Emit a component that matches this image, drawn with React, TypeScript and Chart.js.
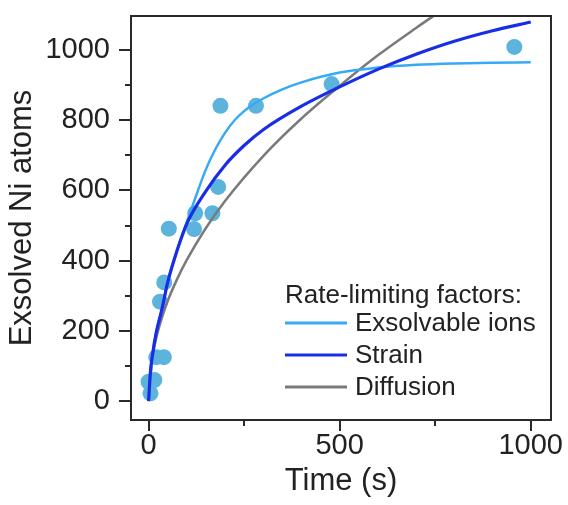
import React, { useEffect, useRef } from 'react';
import { Chart, registerables } from 'chart.js';

Chart.register(...registerables);

// ---------- data ----------
const timeTicks = [0, 500, 1000];
const timeMinorTicks = [250, 750];
const atomTicks = [0, 200, 400, 600, 800, 1000];
const atomMinorTicks = [100, 300, 500, 700, 900];

const obsTime = [5, 0, 15, 20, 40, 30, 41, 53, 119, 122, 167, 182, 188, 281, 479, 957];
const obsAtoms = [22, 55, 60, 125, 125, 283, 338, 491, 490, 535, 535, 610, 841, 841, 903, 1009];

const ionsTime = [0, 10, 20, 35, 50, 75, 100, 125, 150, 175, 200, 225, 250, 275, 300, 350, 400, 500, 600, 700, 800, 900, 1000];
const ionsAtoms = [0, 125, 195, 262, 340, 432, 510, 587, 660, 718, 764, 800, 826, 846, 862, 888, 908, 936, 950, 958, 962, 964, 965];

const strainTime = [0, 5, 10, 20, 35, 50, 75, 100, 150, 200, 250, 300, 400, 500, 600, 700, 800, 900, 1000];
const strainAtoms = [0, 85, 130, 195, 262, 338, 430, 505, 598, 672, 728, 773, 840, 895, 945, 988, 1025, 1055, 1080];

const diffTime = [0, 5, 10, 20, 35, 50, 75, 100, 150, 200, 300, 400, 500, 600, 700, 760];
const diffAtoms = [0, 88, 127, 180, 238, 285, 348, 402, 493, 570, 698, 805, 898, 985, 1063, 1108];

const legendTitle = 'Rate-limiting factors:';
const seriesLabels = ['Exsolvable ions', 'Strain', 'Diffusion'];

const FONT = '"Liberation Sans", Arial, Helvetica, sans-serif';
const AXIS = '#2a2a2a';

const toXY = (xs: number[], ys: number[]) => xs.map((x, i) => ({ x, y: ys[i] }));

const framePlugin = {
  id: 'frameAndMinor',
  afterDraw(chart: any) {
    const { ctx, chartArea, scales } = chart;
    ctx.save();
    ctx.strokeStyle = AXIS;
    ctx.lineWidth = 2;
    ctx.strokeRect(chartArea.left, chartArea.top, chartArea.right - chartArea.left, chartArea.bottom - chartArea.top);
    ctx.beginPath();
    timeMinorTicks.forEach((v) => {
      const px = Math.round(scales.x.getPixelForValue(v));
      ctx.moveTo(px, chartArea.bottom);
      ctx.lineTo(px, chartArea.bottom + 6);
    });
    atomMinorTicks.forEach((v) => {
      const py = Math.round(scales.y.getPixelForValue(v));
      ctx.moveTo(chartArea.left, py);
      ctx.lineTo(chartArea.left - 6, py);
    });
    ctx.stroke();
    ctx.restore();
  },
};

const legendPlugin = {
  id: 'inlineLegend',
  afterDraw(chart: any) {
    const { ctx, chartArea } = chart;
    const x0 = chartArea.left + 154;
    ctx.save();
    ctx.font = `26px ${FONT}`;
    ctx.fillStyle = '#222';
    ctx.textBaseline = 'middle';
    ctx.textAlign = 'left';
    ctx.fillText(legendTitle, x0, chartArea.top + 280);
    chart.data.datasets
      .filter((d: any) => d.type === 'line')
      .forEach((d: any, i: number) => {
        const y = chartArea.top + 307 + i * 32;
        ctx.strokeStyle = d.borderColor;
        ctx.lineWidth = 3;
        ctx.beginPath();
        ctx.moveTo(x0, y);
        ctx.lineTo(x0 + 62, y);
        ctx.stroke();
        ctx.fillText(d.label, x0 + 70, y + 1);
      });
    ctx.restore();
  },
};

export default function App() {
  const ref = useRef<HTMLCanvasElement | null>(null);
  useEffect(() => {
    if (!ref.current) return;
    const chart = new Chart(ref.current, {
      type: 'line',
      data: {
        datasets: [
          {
            type: 'line',
            label: seriesLabels[0],
            data: toXY(ionsTime, ionsAtoms),
            borderColor: 'rgb(55,170,245)',
            borderWidth: 2.5,
            pointRadius: 0,
            cubicInterpolationMode: 'monotone',
            order: 1,
          },
          {
            type: 'line',
            label: seriesLabels[1],
            data: toXY(strainTime, strainAtoms),
            borderColor: 'rgb(25,45,230)',
            borderWidth: 3.2,
            pointRadius: 0,
            cubicInterpolationMode: 'monotone',
            order: 0,
          },
          {
            type: 'line',
            label: seriesLabels[2],
            data: toXY(diffTime, diffAtoms),
            borderColor: 'rgb(122,122,122)',
            borderWidth: 2.5,
            pointRadius: 0,
            cubicInterpolationMode: 'monotone',
            order: 2,
          },
          {
            type: 'scatter',
            label: 'Observed',
            data: toXY(obsTime, obsAtoms),
            backgroundColor: 'rgb(92,180,220)',
            borderWidth: 0,
            pointRadius: 8,
            order: 3,
          },
        ] as any,
      },
      options: {
        animation: false,
        responsive: false,
        devicePixelRatio: 1,
        layout: { padding: { top: 16, right: 17, left: 0, bottom: 0 } },
        plugins: { legend: { display: false }, tooltip: { enabled: false } },
        scales: {
          x: {
            type: 'linear',
            min: -46,
            max: 1053,
            afterBuildTicks: (s: any) => { s.ticks = timeTicks.map((v) => ({ value: v })); },
            afterFit: (s: any) => { s.height = 85; s.paddingLeft = 0; s.paddingRight = 0; },
            grid: { drawOnChartArea: false, drawTicks: true, tickLength: 11, color: AXIS, lineWidth: 2 },
            border: { display: true, color: AXIS, width: 2 },
            ticks: { color: '#222', padding: 0, maxRotation: 0, callback: (v: any) => String(v), font: { family: FONT, size: 29, lineHeight: 1 } },
            title: { display: true, text: 'Time (s)', color: '#222', padding: { top: 0, bottom: 5 }, font: { family: FONT, size: 31 } },
          },
          y: {
            type: 'linear',
            min: -54,
            max: 1097,
            afterBuildTicks: (s: any) => { s.ticks = atomTicks.map((v) => ({ value: v })); },
            afterFit: (s: any) => { s.width = 131; s.paddingTop = 0; s.paddingBottom = 0; },
            grid: { drawOnChartArea: false, drawTicks: true, tickLength: 12, color: AXIS, lineWidth: 2 },
            border: { display: true, color: AXIS, width: 2 },
            ticks: { color: '#222', padding: 9, callback: (v: any) => String(v), font: { family: FONT, size: 29 } },
            title: { display: true, text: 'Exsolved Ni atoms', color: '#222', padding: { top: 4, bottom: 0 }, font: { family: FONT, size: 31 } },
          },
        },
      } as any,
      plugins: [framePlugin, legendPlugin],
    });
    return () => chart.destroy();
  }, []);
  return (
    <div style={{ position: 'absolute', left: 0, top: 0, width: 568, height: 505, background: '#fff' }}>
      <canvas ref={ref} width={568} height={505} style={{ width: 568, height: 505, display: 'block' }} />
    </div>
  );
}
